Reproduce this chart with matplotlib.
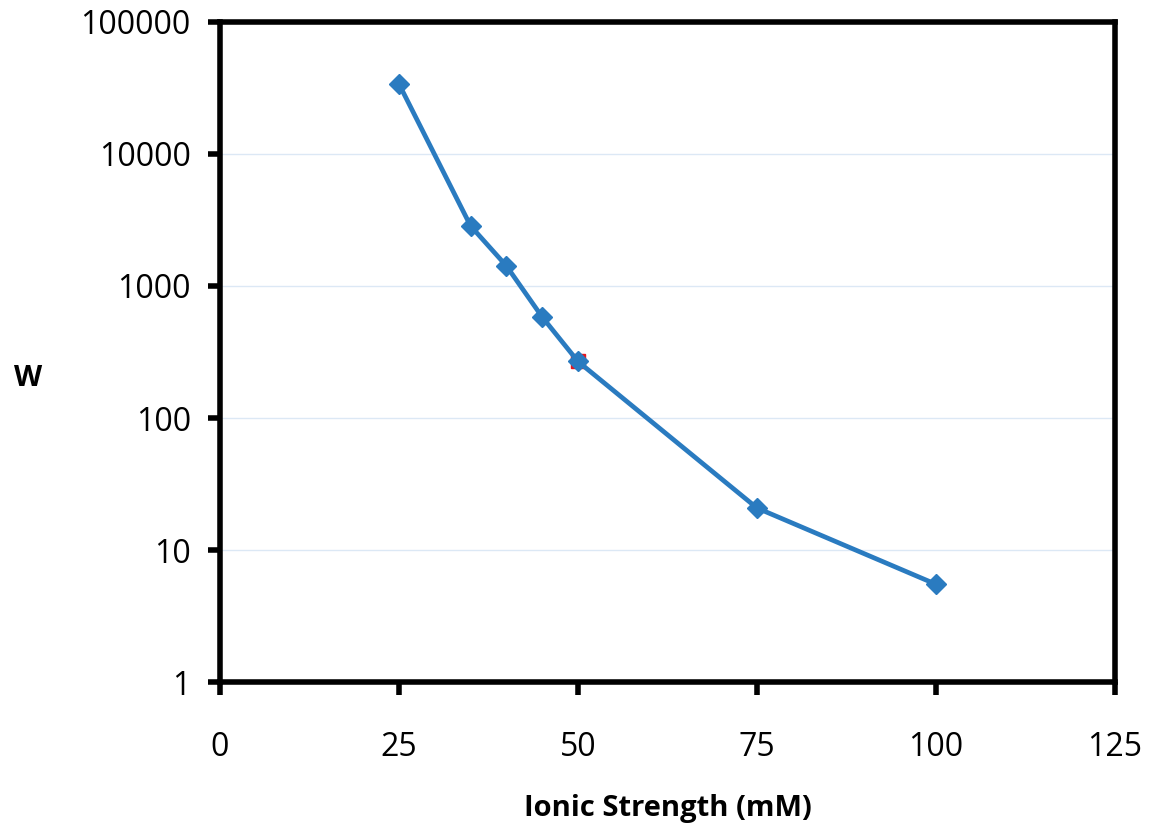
import matplotlib
matplotlib.use("Agg")
import matplotlib.pyplot as plt
from matplotlib.ticker import FixedLocator, FixedFormatter, NullLocator

plt.rcParams['font.family'] = ['Open Sans', 'DejaVu Sans']

ionic_strength = [25, 35, 40, 45, 50, 75, 100]
w_values = [33900, 2850, 1420, 582, 268, 20.8, 5.5]
y_ticks = [1, 10, 100, 1000, 10000, 100000]
y_tick_labels = ["1", "10", "100", "1000", "10000", "100000"]
x_ticks = [0, 25, 50, 75, 100, 125]

fig = plt.figure(figsize=(11.52, 8.38), dpi=100)
ax = fig.add_axes([220/1152, 1-682/838, (1115-220)/1152, (682-22)/838])

ax.set_yscale('log')
ax.set_xlim(0, 125)
ax.set_ylim(1, 100000)

for y in y_ticks[1:-1]:
    ax.axhline(y, color='#dce8f5', lw=1, zorder=0)

# small red marker behind the 50 mM point
ax.plot([ionic_strength[4]], [w_values[4]], marker='s', color='#e8141c', ms=10, ls='none', zorder=2)
ax.plot(ionic_strength, w_values, color='#2a7bc0', lw=3.4, marker='D', ms=10,
        markerfacecolor='#2a7bc0', markeredgecolor='#2a7bc0', zorder=3)

ax.yaxis.set_major_locator(FixedLocator(y_ticks))
ax.yaxis.set_major_formatter(FixedFormatter(y_tick_labels))
ax.yaxis.set_minor_locator(NullLocator())
ax.set_xticks(x_ticks)
ax.set_xticklabels([str(v) for v in x_ticks])

for s in ax.spines.values():
    s.set_linewidth(4)
    s.set_color('black')

ax.tick_params(axis='both', which='major', direction='out', length=9, width=4,
               labelsize=23, color='black')
ax.tick_params(axis='x', pad=26)
ax.tick_params(axis='y', pad=12)

ax.set_xlabel('Ionic Strength (mM)', fontsize=21, fontweight='bold', labelpad=22)
ax.set_ylabel('W', fontsize=21, fontweight='bold', rotation=0, labelpad=10, va='center')
ax.yaxis.set_label_coords(-0.215, 0.46)

fig.savefig('out.png', dpi=100, facecolor='white')
